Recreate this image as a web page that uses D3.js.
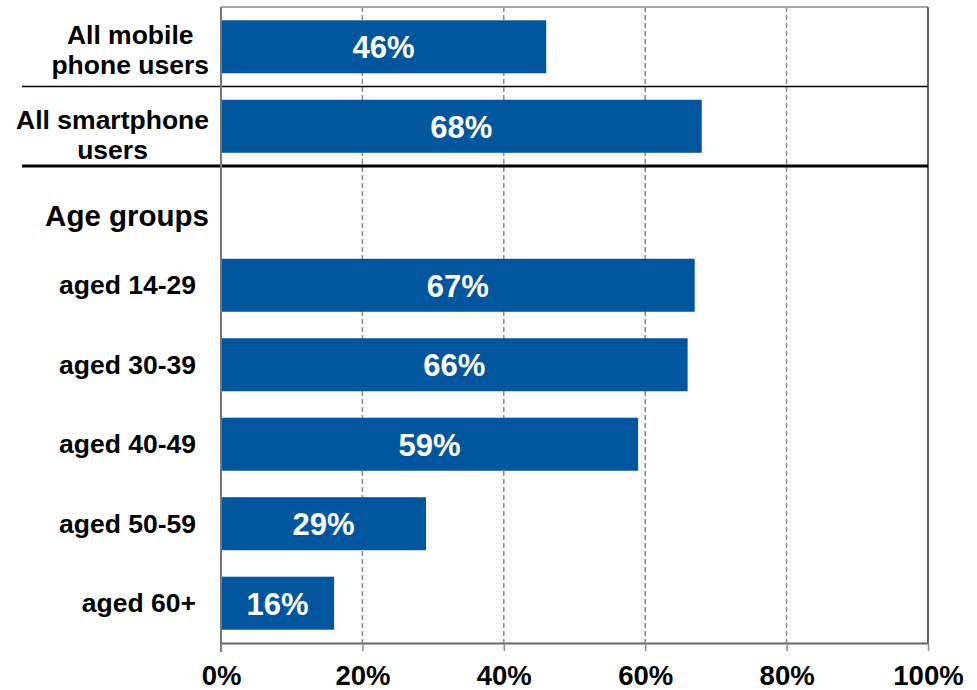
<!DOCTYPE html>
<html>
<head>
<meta charset="utf-8">
<script src="https://cdn.jsdelivr.net/npm/d3@7"></script>
<style>
  html, body { margin: 0; padding: 0; background: #ffffff; }
  svg { display: block; font-family: "Liberation Sans", Arial, Helvetica, sans-serif; font-weight: bold; }
</style>
</head>
<body>
<svg id="chart" width="977" height="690"></svg>
<script>
// Share of users, by group (percent)
const rowKeys = ["mobile", "smartphone", "heading", "14-29", "30-39", "40-49", "50-59", "60+"];
const rowLabels = [
  ["All mobile", "phone users"],
  ["All smartphone", "users"],
  ["Age groups"],
  ["aged 14-29"],
  ["aged 30-39"],
  ["aged 40-49"],
  ["aged 50-59"],
  ["aged 60+"]
];
const shareValues = [46, 68, null, 67, 66, 59, 29, 16];
const tickValues = [0, 20, 40, 60, 80, 100];
const gridValues = [20, 40, 60, 80];

const svg = d3.select("#chart");
const plot = { left: 221, right: 928, top: 7, bottom: 643 };
const barColor = "#02569d";

const x = d3.scaleLinear().domain([0, 100]).range([plot.left, plot.right]);
const y = d3.scaleBand().domain(rowKeys).range([plot.top, plot.bottom])
  .paddingInner(0.333).paddingOuter(0.167);

// dashed vertical gridlines
svg.append("g").selectAll("line").data(gridValues).join("line")
  .attr("x1", d => x(d)).attr("x2", d => x(d))
  .attr("y1", plot.top).attr("y2", plot.bottom)
  .attr("stroke", "#8a8a8a").attr("stroke-width", 1.5)
  .attr("stroke-dasharray", "5,3");

// plot frame: top and right edges
svg.append("line").attr("x1", x(0)).attr("x2", x(100))
  .attr("y1", plot.top).attr("y2", plot.top)
  .attr("stroke", "#a8a8a8").attr("stroke-width", 2);
svg.append("line").attr("x1", x(100)).attr("x2", x(100))
  .attr("y1", plot.top).attr("y2", plot.bottom)
  .attr("stroke", "#666").attr("stroke-width", 2);

// bars
const rows = rowKeys.map((k, i) => ({ key: k, lines: rowLabels[i], value: shareValues[i] }));
const barRows = rows.filter(r => r.value !== null);

svg.append("g").selectAll("rect").data(barRows).join("rect")
  .attr("x", x(0))
  .attr("y", d => y(d.key))
  .attr("width", d => x(d.value) - x(0))
  .attr("height", y.bandwidth())
  .attr("fill", barColor);

// value labels centred in each bar
svg.append("g").selectAll("text").data(barRows).join("text")
  .attr("x", d => (x(0) + x(d.value)) / 2)
  .attr("y", d => y(d.key) + y.bandwidth() / 2 + 11.5)
  .attr("text-anchor", "middle")
  .attr("fill", "#ffffff")
  .attr("font-size", 31)
  .text(d => d.value + "%");

// separators between the overview rows and the age breakdown
const gapHalf = (y.step() - y.bandwidth()) / 2;
const sepX0 = 22;
svg.append("line")
  .attr("x1", sepX0).attr("x2", x(100))
  .attr("y1", y("mobile") + y.bandwidth() + gapHalf)
  .attr("y2", y("mobile") + y.bandwidth() + gapHalf)
  .attr("stroke", "#000").attr("stroke-width", 1.6);
svg.append("line")
  .attr("x1", sepX0).attr("x2", x(100))
  .attr("y1", y("smartphone") + y.bandwidth() + gapHalf)
  .attr("y2", y("smartphone") + y.bandwidth() + gapHalf)
  .attr("stroke", "#000").attr("stroke-width", 3.2);

// left axis line
svg.append("line").attr("x1", x(0)).attr("x2", x(0))
  .attr("y1", plot.top).attr("y2", plot.bottom + 9)
  .attr("stroke", "#777").attr("stroke-width", 2);

// bottom axis
const xAxis = d3.axisBottom(x).tickValues(tickValues)
  .tickFormat(d => d + "%").tickSize(8).tickSizeOuter(0).tickPadding(14);
const gx = svg.append("g").attr("transform", `translate(0,${plot.bottom})`).call(xAxis);
gx.select(".domain").attr("stroke", "#666").attr("stroke-width", 2.2);
gx.selectAll(".tick line").attr("stroke", "#8a8a8a").attr("stroke-width", 1.5);
gx.selectAll(".tick text")
  .attr("fill", "#000")
  .attr("font-size", 27.5)
  .attr("font-family", "'Liberation Sans', Arial, sans-serif")
  .attr("font-weight", "bold");

// category labels
const labelLayer = svg.append("g");
rows.forEach((r, i) => {
  const cy = y(r.key) + y.bandwidth() / 2;
  if (r.key === "heading") {
    labelLayer.append("text")
      .attr("x", 209).attr("y", cy + 20)
      .attr("text-anchor", "end")
      .attr("font-size", 29.5).attr("fill", "#000")
      .text(r.lines[0]);
  } else if (r.lines.length > 1) {
    // multi-line labels: lines centred within a block whose right edge is fixed
    const shift = r.key === "smartphone" ? 6 : 0;
    const g = labelLayer.append("g");
    const texts = r.lines.map((line, j) => g.append("text")
      .attr("y", cy + (j - (r.lines.length - 1) / 2) * 30 + 12 + shift)
      .attr("font-size", 26.5).attr("fill", "#000")
      .attr("text-anchor", "middle")
      .text(line));
    const widths = texts.map(t => t.node().getComputedTextLength());
    const blockW = d3.max(widths);
    texts.forEach(t => t.attr("x", 209 - blockW / 2));
  } else {
    labelLayer.append("text")
      .attr("x", 196).attr("y", cy + 9)
      .attr("text-anchor", "end")
      .attr("font-size", 26.5).attr("fill", "#000")
      .text(r.lines[0]);
  }
});
</script>
</body>
</html>
